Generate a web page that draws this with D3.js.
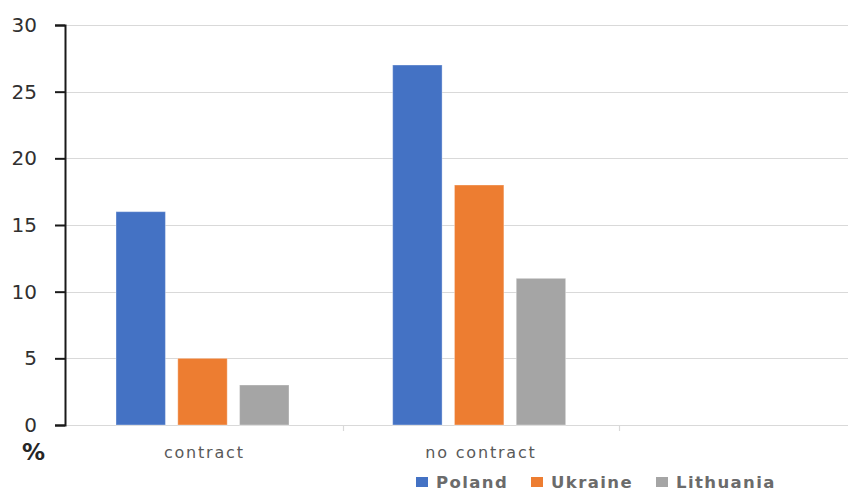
<!DOCTYPE html>
<html>
<head>
<meta charset="utf-8">
<script src="https://cdn.jsdelivr.net/npm/d3@7"></script>
<style>
  html, body { margin: 0; padding: 0; background: #fff; }
  svg { display: block; }
</style>
</head>
<body>
<svg id="chart" width="848" height="491"></svg>
<script>
// Share of respondents by employment form and country (%)
const categories = ["contract", "no contract", ""];
const series = ["Poland", "Ukraine", "Lithuania"];
const poland = [16, 27, null];
const ukraine = [5, 18, null];
const lithuania = [3, 11, null];
const yTicks = [0, 5, 10, 15, 20, 25, 30];
const colors = ["#4472C4", "#ED7D31", "#A5A5A5"];

const valuesBySeries = [poland, ukraine, lithuania];

const svg = d3.select("#chart");
const plotLeft = 65, plotRight = 896, plotTop = 25, plotBottom = 425;

const y = d3.scaleLinear().domain([0, 30]).range([plotBottom, plotTop]);
const x0 = d3.scaleBand().domain(categories).range([plotLeft + 1, plotRight]).paddingInner(0).paddingOuter(0);
const x1 = d3.scaleBand().domain(series).range([50, 223]).paddingInner(0.2).paddingOuter(0);
const color = d3.scaleOrdinal().domain(series).range(colors);

// horizontal gridlines
svg.append("g")
  .selectAll("line")
  .data(yTicks)
  .join("line")
  .attr("x1", plotLeft)
  .attr("x2", 848)
  .attr("y1", d => Math.round(y(d)) + 0.5)
  .attr("y2", d => Math.round(y(d)) + 0.5)
  .attr("stroke", "#d9d9d9")
  .attr("stroke-width", 1.2);

// category separators below the baseline
svg.append("g")
  .selectAll("line")
  .data(categories.slice(1))
  .join("line")
  .attr("x1", d => Math.round(x0(d)) + 0.5)
  .attr("x2", d => Math.round(x0(d)) + 0.5)
  .attr("y1", plotBottom)
  .attr("y2", plotBottom + 6)
  .attr("stroke", "#d9d9d9")
  .attr("stroke-width", 1.2);

// bars
const rows = [];
categories.forEach((c, ci) => {
  series.forEach((s, si) => {
    const v = valuesBySeries[si][ci];
    if (v != null) rows.push({ category: c, series: s, value: v });
  });
});

svg.append("g")
  .selectAll("rect")
  .data(rows)
  .join("rect")
  .attr("x", d => x0(d.category) + x1(d.series))
  .attr("y", d => y(d.value))
  .attr("width", x1.bandwidth())
  .attr("height", d => y(0) - y(d.value))
  .attr("fill", d => color(d.series))
  .attr("stroke", "#ffffff")
  .attr("stroke-opacity", 0.35)
  .attr("stroke-width", 1);

// left value axis
const yAxis = d3.axisLeft(y).tickValues(yTicks).tickSize(10).tickPadding(18);
const gy = svg.append("g").attr("transform", `translate(${plotLeft},0)`).call(yAxis);
gy.select(".domain").attr("stroke", "#1a1a1a").attr("stroke-width", 2);
gy.selectAll(".tick line").attr("stroke", "#1a1a1a").attr("stroke-width", 2);
gy.selectAll(".tick text")
  .attr("font-family", "DejaVu Sans, Verdana, sans-serif")
  .attr("font-size", 20)
  .attr("fill", "#303030");

// category labels
svg.append("g")
  .selectAll("text")
  .data(categories.filter(c => c !== ""))
  .join("text")
  .attr("x", d => x0(d) + x0.bandwidth() / 2)
  .attr("y", 458)
  .attr("text-anchor", "middle")
  .attr("font-family", "DejaVu Sans, Verdana, sans-serif")
  .attr("font-size", 16)
  .attr("letter-spacing", 1.8)
  .attr("fill", "#595959")
  .text(d => d);

// unit label
svg.append("text")
  .attr("x", 22)
  .attr("y", 460)
  .attr("font-family", "DejaVu Sans, Verdana, sans-serif")
  .attr("font-size", 23)
  .attr("font-weight", "bold")
  .attr("fill", "#262626")
  .text("%");

// legend
const legendX = [416, 531, 656];
const legend = svg.append("g")
  .selectAll("g")
  .data(series)
  .join("g")
  .attr("transform", (d, i) => `translate(${legendX[i]},0)`);
legend.append("rect")
  .attr("x", 0)
  .attr("y", 477)
  .attr("width", 12)
  .attr("height", 10)
  .attr("fill", d => color(d));
legend.append("text")
  .attr("x", 20)
  .attr("y", 488)
  .attr("font-family", "DejaVu Sans, Verdana, sans-serif")
  .attr("font-size", 16.5)
  .attr("font-weight", "bold")
  .attr("letter-spacing", 1.4)
  .attr("fill", "#6b6b6b")
  .text(d => d);
</script>
</body>
</html>
